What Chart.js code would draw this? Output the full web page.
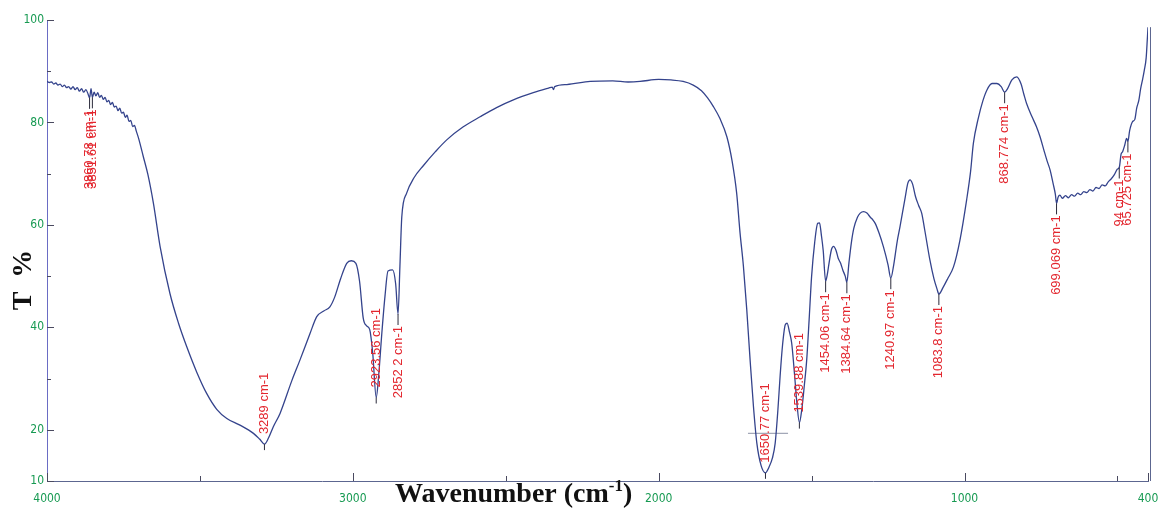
<!DOCTYPE html>
<html>
<head>
<meta charset="utf-8">
<script src="https://cdn.jsdelivr.net/npm/chart.js@4.4.1/dist/chart.umd.min.js"></script>
<style>
  html, body { margin: 0; padding: 0; background: #fff; }
  #wrap { width: 1158px; height: 532px; }
</style>
</head>
<body>
<div id="wrap"><canvas id="espectro" width="1158" height="532"></canvas></div>
<script>
// FTIR spectrum, wavenumber (cm-1) vs transmittance (%)
const wavenumber = [
  4000,3992,3985,3978,3971,3964,3957,3950,3943,3936,
  3929,3922,3915,3908,3901,3894,3887,3880,3873,3866,
  3860.78,3856,3851.61,3846,3840,3834,3828,3822,3816,3810,
  3804,3798,3792,3786,3780,3774,3768,3762,3756,3750,
  3744,3738,3732,3726,3720,3714,3708,3700,3685,3670,
  3652,3630,3598,3570,
  3543,3510,3478,3445,3412,3369,3325,3305,3289,3275,
  3260,3238,3200,3173,3140,3118,3095,3075,3060,3040,
  3020,3005,2990,2978,2966,2955,2945,2935,2923.56,2915,
  2905,2895,2885,2870,2860,2852.2,2846,2840,2824,2800,
  2769,2730,2693,2640,2584,2530,2475,2410,2360,2348,
  2344,2340,2300,2224,2150,2100,2061,2000,1960,1920,
  1887,1860,1840,1821,1800,1777,1760,1745,1734,1723,
  1712,1701,1690,1679,1665,1650.77,1640,1628,1619,1610,
  1603,1595,1586,1580,1572,1565,1556,1548,1539.88,1532,
  1524,1516,1508,1500,1490,1480,1474,1468,1462,1454.06,
  1449,1443,1435,1428,1420,1413,1405,1398,1390,1384.64,
  1378,1370,1362,1350,1341,1330,1319,1308,1300,1292,
  1280,1265,1250,1240.97,1232,1220,1211,1195,1185,1178,
  1170,1160,1150,1140,1130,1113,1100,1090,1083.8,1070,
  1055,1036,1015,993,980,971,955,940,927,910,
  894,880,868.774,860,845,829,815,805,797,780,
  765,753,740,730,720,710,703,699.069,694,688,
  680,670,660,650,640,630,620,610,600,590,
  580,570,560,550,540,530,520,510,500,494,
  488,483,476,470,465.725,460,450,443,437,430,
  424,418,412,406,402,400
];
const transmittance = [
  88.0,87.8,87.9,87.5,87.7,87.3,87.5,87.0,87.3,86.8,
  87.0,86.5,87.0,86.4,86.8,86.1,86.6,85.9,86.4,85.6,
  84.8,86.6,84.9,85.9,85.2,85.8,84.9,85.3,84.5,84.9,
  84.0,84.3,83.5,83.9,83.0,83.2,82.3,82.8,81.8,82.0,
  81.0,81.4,80.2,80.4,79.2,79.4,78.3,76.8,73.3,69.8,
  64.2,55.7,46.6,40.8,
  36.2,31.2,27.1,24.0,22.2,20.9,19.3,18.2,17.2,18.5,
  20.6,23.2,29.5,33.6,38.8,42.1,43.2,44.0,45.8,49.5,
  52.5,53.0,52.5,49.0,41.8,40.3,39.6,35.0,26.3,31.0,
  39.0,46.0,51.0,51.2,48.5,42.6,52.0,61.5,66.2,69.2,
  71.6,74.3,76.6,79.1,81.1,82.9,84.4,85.8,86.7,86.9,
  86.4,87.0,87.4,88.0,88.1,87.9,88.0,88.4,88.3,88.0,
  87.3,86.2,84.8,83.1,80.8,77.2,72.5,66.2,58.5,52.0,
  43.5,33.6,24.5,17.4,13.0,11.6,12.6,14.5,17.4,24.0,
  30.4,36.5,40.5,40.8,39.0,36.9,31.0,25.2,21.4,24.0,
  28.5,33.6,41.5,49.9,56.5,60.3,60.4,58.0,55.0,49.0,
  50.2,52.5,55.2,55.8,55.0,53.5,52.5,51.2,50.0,48.8,
  52.5,56.5,59.3,61.5,62.3,62.6,62.3,61.5,61.0,60.3,
  58.5,55.7,52.2,49.6,52.0,56.8,59.6,65.0,68.2,68.8,
  68.0,65.5,63.8,62.3,59.0,53.1,49.5,47.5,46.5,47.8,
  49.5,51.8,57.0,64.9,70.5,75.9,80.8,84.2,86.3,87.6,
  87.6,87.0,85.9,86.5,88.3,88.9,87.5,85.3,83.7,81.2,
  79.2,77.2,74.5,72.5,70.7,68.0,66.0,64.2,65.4,65.8,
  65.2,65.7,65.3,65.9,65.6,66.2,65.9,66.5,66.3,66.9,
  66.6,67.3,67.1,67.8,67.6,68.4,69.0,69.8,70.9,71.2,
  73.8,74.3,75.6,76.9,76.3,78.4,80.2,80.6,82.8,84.3,
  86.6,88.3,90.2,92.6,96.5,98.6
];

// picked peaks and the text printed next to each one
const peakWavenumber = [3860.78, 3851.61, 3289, 2923.56, 2852.2, 1650.77, 1539.88, 1454.06,
  1384.64, 1240.97, 1083.8, 868.774, 699.069, 494, 465.725];
const peakText = ["3860.78 cm-1", "3851.61 cm-1", "3289 cm-1", "2923.56 cm-1", "2852 2 cm-1",
  "1650.77 cm-1", "1539.88 cm-1", "1454.06 cm-1", "1384.64 cm-1", "1240.97 cm-1",
  "1083.8 cm-1", "868.774 cm-1", "699.069 cm-1", "94 cm-1", "65.725 cm-1"];

// small grey cursor under the 1650 band
const cursorX = [1708, 1577];
const cursorY = [19.3, 19.3];

const yTicks = [10, 20, 30, 40, 50, 60, 70, 80, 90, 100];
const yLabels = [10, 20, 40, 60, 80, 100];
const xTicks = [4000, 3500, 3000, 2500, 2000, 1500, 1000, 500, 400];
const xLabels = [4000, 3000, 2000, 1000, 400];

const espectro = wavenumber.map((w, i) => ({x: w, y: transmittance[i]}));
const cursor = cursorX.map((w, i) => ({x: w, y: cursorY[i]}));

function tAt(w) {
  const i = wavenumber.indexOf(w);
  if (i >= 0) return transmittance[i];
  for (let k = 1; k < wavenumber.length; k++) {
    if (wavenumber[k] <= w) {
      const f = (wavenumber[k - 1] - w) / (wavenumber[k - 1] - wavenumber[k]);
      return transmittance[k - 1] + f * (transmittance[k] - transmittance[k - 1]);
    }
  }
  return transmittance[transmittance.length - 1];
}

const tickFont = {family: "'Liberation Sans Narrow', 'DejaVu Sans Condensed', 'Liberation Sans', sans-serif", size: 12};
const tickGreen = '#179a52';

const decoracion = {
  id: 'decoracion',
  afterDatasetsDraw(chart) {
    const {ctx, chartArea} = chart;
    const x = chart.scales.x, y = chart.scales.y;
    ctx.save();

    // ticks pointing into the plot
    ctx.strokeStyle = '#4a4a60';
    ctx.lineWidth = 1;
    yTicks.forEach(v => {
      const py = Math.round(y.getPixelForValue(v)) + 0.5;
      const len = yLabels.includes(v) ? 7 : 4;
      ctx.beginPath(); ctx.moveTo(chartArea.left, py); ctx.lineTo(chartArea.left + len, py); ctx.stroke();
    });
    xTicks.forEach(v => {
      const px = Math.round(x.getPixelForValue(v)) + 0.5;
      const len = xLabels.includes(v) ? 8 : 5;
      ctx.beginPath(); ctx.moveTo(px, chartArea.bottom); ctx.lineTo(px, chartArea.bottom - len); ctx.stroke();
    });

    // right frame edge, a little past the 400 end
    ctx.strokeStyle = '#5c6690';
    ctx.beginPath();
    ctx.moveTo(chartArea.right + 2.5, y.getPixelForValue(98.6));
    ctx.lineTo(chartArea.right + 2.5, chartArea.bottom);
    ctx.stroke();

    // peak labels, vertical red text
    ctx.font = "13px 'Liberation Sans', Arial, sans-serif";
    ctx.textBaseline = 'middle';
    ctx.textAlign = 'left';
    peakWavenumber.forEach((w, i) => {
      const t = tAt(w);
      const px = x.getPixelForValue(w);
      const py = y.getPixelForValue(t);
      const txt = peakText[i];
      const tw = ctx.measureText(txt).width;
      let base;
      ctx.strokeStyle = '#2a2a3a';
      ctx.beginPath();
      if (t < 30) {
        base = py - 10;
        ctx.moveTo(px, py); ctx.lineTo(px, py + 6);
      } else {
        base = py + 12 + tw;
        ctx.moveTo(px, py); ctx.lineTo(px, py + 11);
      }
      ctx.stroke();
      ctx.save();
      ctx.translate(px, base);
      ctx.rotate(-Math.PI / 2);
      ctx.fillStyle = '#e3262e';
      ctx.fillText(txt, 0, 0);
      ctx.restore();
    });

    // axis titles
    ctx.fillStyle = '#111';
    ctx.save();
    ctx.translate(24, 280);
    ctx.rotate(-Math.PI / 2);
    ctx.textAlign = 'center';
    ctx.textBaseline = 'middle';
    ctx.font = "bold 28px 'Liberation Serif', 'Times New Roman', serif";
    ctx.fillText('T  %', 0, 0);
    ctx.restore();

    ctx.textAlign = 'left';
    ctx.textBaseline = 'alphabetic';
    let cx = 395;
    const baseY = 502;
    ctx.font = "bold 28px 'Liberation Serif', 'Times New Roman', serif";
    ctx.fillText('Wavenumber (cm', cx, baseY);
    cx += ctx.measureText('Wavenumber (cm').width;
    ctx.font = "bold 17px 'Liberation Serif', 'Times New Roman', serif";
    ctx.fillText('-1', cx, baseY - 11);
    cx += ctx.measureText('-1').width;
    ctx.font = "bold 28px 'Liberation Serif', 'Times New Roman', serif";
    ctx.fillText(')', cx, baseY);
    ctx.restore();
  }
};

new Chart(document.getElementById('espectro'), {
  type: 'scatter',
  data: {
    datasets: [
      {
        data: espectro,
        showLine: true,
        borderColor: '#34438c',
        borderWidth: 1.3,
        pointRadius: 0,
        cubicInterpolationMode: 'monotone'
      },
      {
        data: cursor,
        showLine: true,
        borderColor: '#a3a8b8',
        borderWidth: 1.2,
        pointRadius: 0
      }
    ]
  },
  options: {
    responsive: false,
    animation: false,
    devicePixelRatio: 1,
    layout: {padding: {top: 20, right: 10, left: 0, bottom: 0}},
    plugins: {legend: {display: false}, tooltip: {enabled: false}},
    scales: {
      x: {
        type: 'linear',
        reverse: true,
        min: 400,
        max: 4000,
        afterBuildTicks: s => { s.ticks = xTicks.map(v => ({value: v})); },
        afterFit: s => { s.height = 51; s.paddingLeft = 0; s.paddingRight = 0; },
        grid: {display: false, drawTicks: false},
        border: {display: true, color: '#5c6690', width: 1},
        ticks: {
          autoSkip: false,
          maxRotation: 0,
          padding: 11,
          color: tickGreen,
          font: tickFont,
          callback: v => xLabels.includes(v) ? String(v) : ''
        }
      },
      y: {
        type: 'linear',
        min: 10,
        max: 100,
        afterBuildTicks: s => { s.ticks = yTicks.map(v => ({value: v})); },
        afterFit: s => { s.width = 47; s.paddingTop = 0; s.paddingBottom = 0; },
        grid: {display: false, drawTicks: false},
        border: {display: true, color: '#6a6cc4', width: 1},
        ticks: {
          autoSkip: false,
          padding: 3,
          color: tickGreen,
          font: tickFont,
          callback: v => yLabels.includes(v) ? String(v) : ''
        }
      }
    }
  },
  plugins: [decoracion]
});
</script>
</body>
</html>
